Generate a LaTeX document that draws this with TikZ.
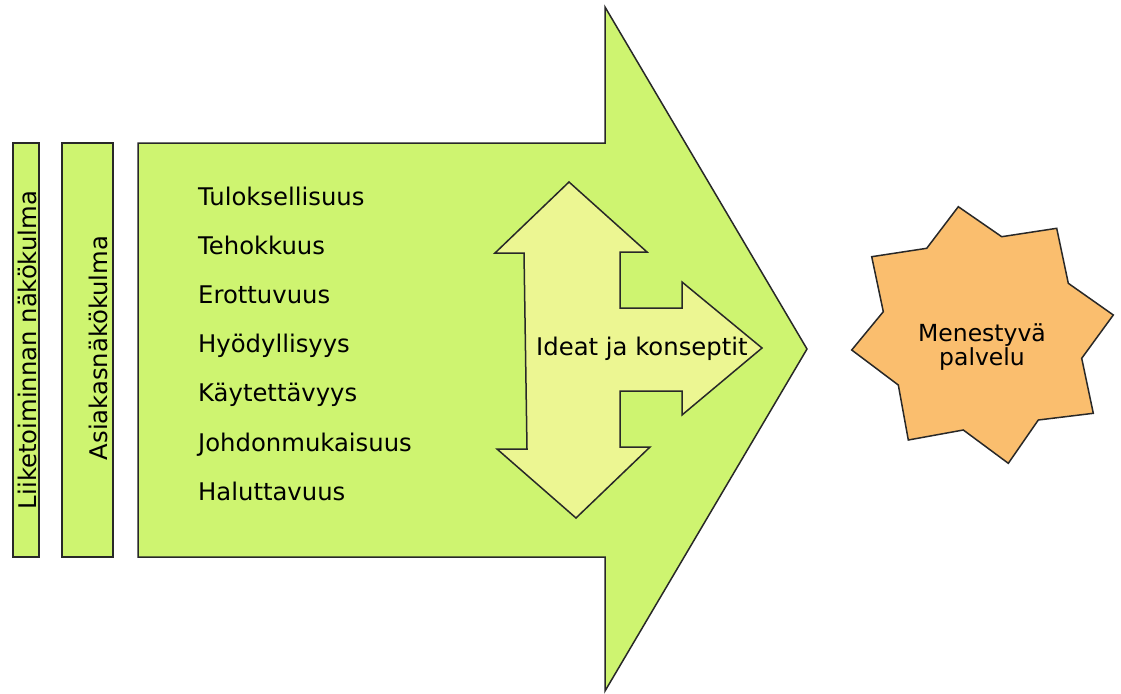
\documentclass[tikz,border=0pt]{standalone}
\usepackage{fontspec}
\setmainfont{DejaVu Sans}
\definecolor{arrowgreen}{RGB}{206,244,112}
\definecolor{ideayellow}{RGB}{236,246,146}
\definecolor{starorange}{RGB}{250,190,110}
\definecolor{edge}{RGB}{40,40,40}
\tikzset{
  shapeline/.style={draw=edge, line width=1.5pt, line join=miter},
  lbl/.style={font=\fontsize{24.3}{28}\selectfont, text=black, inner sep=0pt},
  item/.style={lbl, anchor=base west},
  starlbl/.style={lbl, font=\fontsize{23.5}{27}\selectfont, anchor=base},
}
\begin{document}
\begin{tikzpicture}[x=1pt,y=-1pt]
\useasboundingbox (0,0) rectangle (1121,693);

% perspective bars
\draw[shapeline, fill=arrowgreen] (13,143) rectangle (39,557);
\draw[shapeline, fill=arrowgreen] (62,143) rectangle (113,557);
\node[lbl, rotate=90, anchor=base] (bizview) at (36,350) {Liiketoiminnan näkökulma};
\node[lbl, rotate=90, anchor=base] (custview) at (107,348) {Asiakasnäkökulma};

% main arrow
\draw[shapeline, fill=arrowgreen]
  (138,143) -- (605,143) -- (605,7) -- (807,349) -- (605,691) -- (605,557) -- (138,557) -- cycle;

% quality criteria
\foreach \t [count=\i from 0] in {Tuloksellisuus,Tehokkuus,Erottuvuus,Hyödyllisyys,Käytettävyys,Johdonmukaisuus,Haluttavuus}
  \node[item] (crit\i) at (198,{205+49.2*\i}) {\t};

% ideas arrow
\draw[shapeline, fill=ideayellow]
  (569,182) -- (647,252) -- (620,252) -- (620,308) -- (682,308) -- (682,282)
  -- (762,348) -- (682,415) -- (682,391) -- (620,391) -- (620,447) -- (650,447)
  -- (576,518) -- (497,449) -- (527,449) -- (524,253) -- (495,253) -- cycle;
\node[lbl, anchor=base west] (ideas) at (536,355) {Ideat ja konseptit};

% successful service star
\draw[shapeline, fill=starorange]
  (958.3,206.7) -- (1001.7,236.7) -- (1056.7,228.3) -- (1068.3,283.3)
  -- (1113.3,315) -- (1081.7,358.3) -- (1093.3,413.3) -- (1038.3,420)
  -- (1008.3,463.3) -- (963.3,430) -- (908.3,440) -- (898.3,385)
  -- (851.7,350) -- (883.3,311.7) -- (871.7,256.7) -- (926.7,248.3) -- cycle;
\node[starlbl] (succ1) at (982,341) {Menestyvä};
\node[starlbl] (succ2) at (982,365) {palvelu};
\end{tikzpicture}
\end{document}
